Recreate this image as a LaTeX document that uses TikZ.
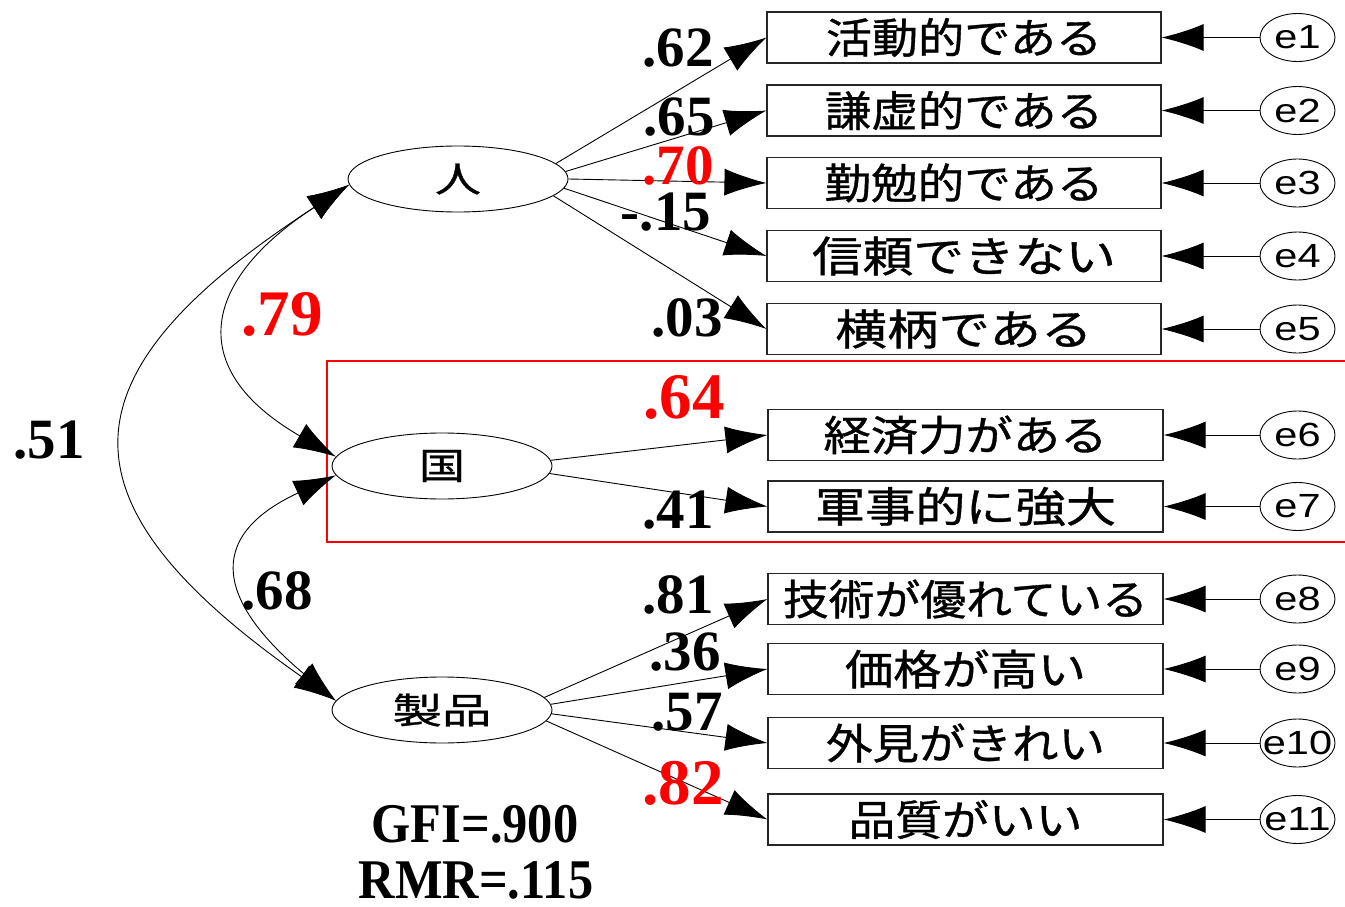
\documentclass[tikz,border=0pt]{standalone}
\usepackage{fontspec}
\setmainfont{Liberation Serif}
\newfontfamily\jfont[FakeBold=0.8]{Noto Sans CJK JP}
\newfontfamily\efont{Liberation Sans}
\usetikzlibrary{arrows.meta,shapes.geometric}
\newcommand\jl[2]{\resizebox*{#1pt}{39pt}{\jfont #2}}
\newcommand\el[1]{\scalebox{1.24}[1]{\efont\fontsize{33.5}{36}\selectfont #1}}
\begin{document}
\begin{tikzpicture}[x=1pt,y=1pt,
  lat/.style={ellipse, draw, line width=0.9pt, minimum width=220pt, minimum height=66pt, inner sep=0pt},
  obs/.style={rectangle, draw=black!85, line width=1.1pt, minimum height=51pt, inner sep=0pt},
  err/.style={ellipse, draw, line width=0.9pt, minimum width=75pt, minimum height=48pt, inner sep=0pt},
  etxt/.style={inner sep=0pt},
  reg/.style={line width=0.9pt, -{Latex[length=42pt,width=27pt]}},
  cov/.style={line width=0.9pt, {Latex[length=42pt,width=27pt]}-{Latex[length=42pt,width=27pt]}},
  num/.style={font=\fontsize{57}{60}\selectfont\bfseries, inner sep=0pt},
  rnum/.style={font=\fontsize{65}{70}\selectfont\bfseries, text=red, inner sep=0pt},
  stat/.style={font=\fontsize{56}{60}\selectfont\bfseries, inner sep=0pt}]
\useasboundingbox (0,0) rectangle (1345,-907);

% red frame
\draw[red, line width=2.5pt] (1345,-361) -| (327,-542) -- (1345,-542);

% latent variables
\node[lat] (ren) at (458,-179) {\resizebox*{46pt}{31pt}{\jfont 人}};
\node[lat] (koku) at (442,-466) {\resizebox*{46pt}{32pt}{\jfont 国}};
\node[lat] (seihin) at (442,-710) {\resizebox*{99pt}{33pt}{\jfont 製品}};

% observed variables
\node[obs, minimum width=394pt] (b1) at (964,-37.5) {\jl{276}{活動的である}};
\node[obs, minimum width=394pt] (b2) at (964,-110.5) {\jl{278}{謙虚的である}};
\node[obs, minimum width=394pt] (b3) at (964,-183) {\jl{279}{勤勉的である}};
\node[obs, minimum width=394pt] (b4) at (964,-256) {\jl{304}{信頼できない}};
\node[obs, minimum width=394pt] (b5) at (964,-329) {\jl{257}{横柄である}};
\node[obs, minimum width=395pt] (b6) at (965.5,-435) {\jl{284}{経済力がある}};
\node[obs, minimum width=395pt] (b7) at (965.5,-506.5) {\jl{301}{軍事的に強大}};
\node[obs, minimum width=395pt] (b8) at (965.5,-599) {\jl{365}{技術が優れている}};
\node[obs, minimum width=395pt] (b9) at (965.5,-669) {\jl{241}{価格が高い}};
\node[obs, minimum width=395pt] (b10) at (965.5,-743) {\jl{279}{外見がきれい}};
\node[obs, minimum width=395pt] (b11) at (965.5,-819.5) {\jl{234}{品質がいい}};

% error terms
\foreach \i/\y in {1/-37.5,2/-110.5,3/-183,4/-256,5/-329,6/-435,7/-506.5,8/-599,9/-669,10/-743,11/-819.5}{
  \node[err] (e\i) at (1297.5,\y) {};
  \node[etxt] (t\i) at (1297.5,\y) {\el{e\i}};
  \draw[reg] (e\i) -- (b\i.east);
}

% regression paths
\foreach \a/\b in {9/b1,4/b2,0/b3,-5/b4,-10/b5}{\draw[reg] (ren.\a) -- (\b.west);}
\foreach \a/\b in {3/b6,-4/b7}{\draw[reg] (koku.\a) -- (\b.west);}
\foreach \a/\b in {7/b8,3/b9,-2/b10,-6/b11}{\draw[reg] (seihin.\a) -- (\b.west);}

% covariances
\draw[cov] (ren.183) to[out=213,in=150,looseness=1.65] (koku.175);
\draw[cov] (koku.185) to[out=205,in=140,looseness=1.7] (seihin.175);
\draw[cov] (ren.183) to[out=213,in=145,looseness=1.72] (seihin.175);

% coefficients
\node[num] (n62) at (678,-48) {.62};
\node[num] (n65) at (679,-117) {.65};
\node[num, text=red] (n70) at (678,-166) {.70};
\node[num] (n15) at (666,-212) {-.15};
\node[num] (n03) at (687,-318) {.03};
\node[rnum] (n64) at (684,-397) {.64};
\node[num] (n41) at (678,-510) {.41};
\node[num] (n81) at (678,-595) {.81};
\node[num] (n36) at (685,-652) {.36};
\node[num] (n57) at (687,-712) {.57};
\node[rnum] (n82) at (683,-783) {.82};
\node[rnum] (n79) at (282,-314) {.79};
\node[num] (n51) at (49,-440) {.51};
\node[num] (n68) at (277,-591) {.68};

% fit indices
\node[stat] (gfi) at (475,-824) {\scalebox{0.9}[1]{GFI=.900}};
\node[stat] (rmr) at (476,-880) {\scalebox{0.9}[1]{RMR=.115}};
\end{tikzpicture}
\end{document}
